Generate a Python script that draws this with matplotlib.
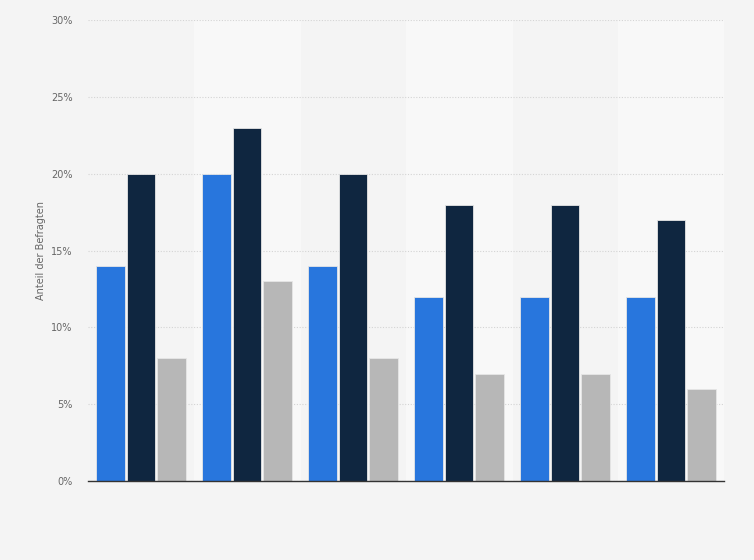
import matplotlib.pyplot as plt
import numpy as np

# Daten
gruppen = ["1", "2", "3", "4", "5", "6"]
serie_a = [14, 20, 14, 12, 12, 12]
serie_b = [20, 23, 20, 18, 18, 17]
serie_c = [8, 13, 8, 7, 7, 6]
y_ticks = [0, 5, 10, 15, 20, 25, 30]
y_tick_labels = ["0%", "5%", "10%", "15%", "20%", "25%", "30%"]

farben = ["#2876dd", "#0f2640", "#b7b7b7"]

fig = plt.figure(figsize=(7.54, 5.6), dpi=100)
fig.patch.set_facecolor("#f4f4f4")
ax = fig.add_axes([0.1167, 0.141, 0.8435, 0.823])
ax.set_facecolor("#f4f4f4")

x = np.arange(len(gruppen))
breite = 0.27
abstand = 0.29

# helle Streifen hinter jeder zweiten Gruppe
for i in x:
    if i % 2 == 1:
        ax.axvspan(i - 0.5, i + 0.5, color="#f8f8f8", zorder=0)

for k, werte in enumerate([serie_a, serie_b, serie_c]):
    ax.bar(x + (k - 1) * abstand, werte, width=breite, color=farben[k],
           edgecolor="#e6e6e6", linewidth=0.6, zorder=3)

ax.set_xlim(-0.5, len(gruppen) - 0.5)
ax.set_ylim(0, 30)
ax.set_yticks(y_ticks)
ax.set_yticklabels(y_tick_labels)
ax.set_xticks([])
ax.grid(axis="y", color="#d4d4d4", linestyle=(0, (1, 1.5)), linewidth=0.8, zorder=1)
ax.tick_params(axis="y", length=0, labelsize=7, labelcolor="#666666", pad=11)

for s in ["top", "right", "left"]:
    ax.spines[s].set_visible(False)
ax.spines["bottom"].set_color("#333333")
ax.spines["bottom"].set_linewidth(1.0)
ax.spines["bottom"].set_zorder(4)

ax.set_ylabel("Anteil der Befragten", fontsize=7, color="#666666", labelpad=4)

fig.savefig("out.png", dpi=100, facecolor=fig.get_facecolor())
